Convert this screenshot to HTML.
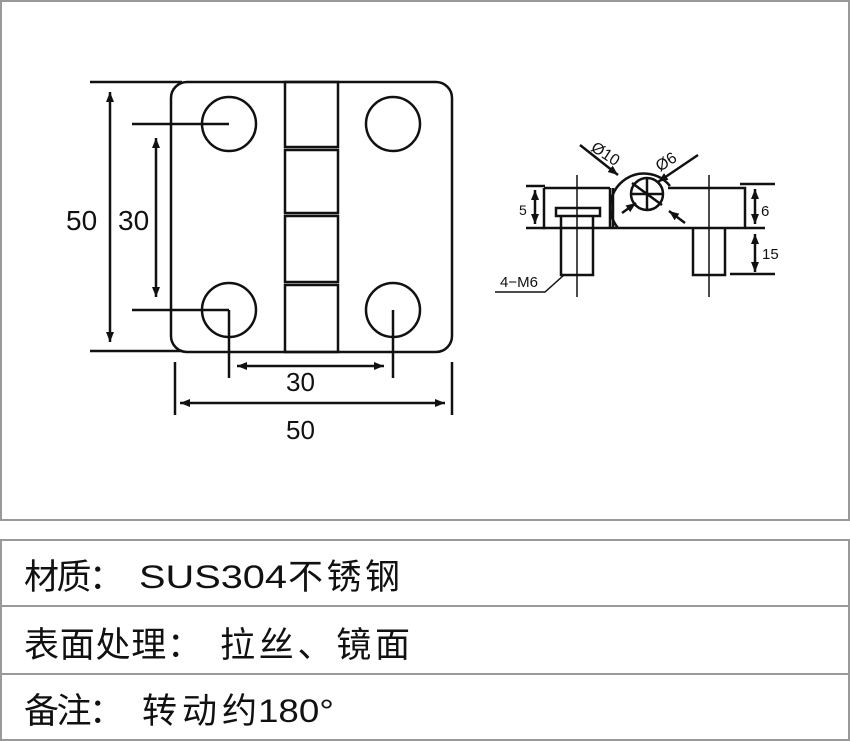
<!DOCTYPE html>
<html><head><meta charset="utf-8"><style>
body{margin:0;width:850px;height:741px;background:#fff;overflow:hidden}
svg{position:absolute;left:0;top:0}
.t{font-family:"Liberation Sans","Noto Sans CJK SC",sans-serif;fill:#111}
</style></head><body>
<svg width="850" height="741" viewBox="0 0 850 741">
<defs><marker id="a" viewBox="0 0 10 10" refX="10" refY="5" markerWidth="10" markerHeight="10" markerUnits="userSpaceOnUse" orient="auto-start-reverse"><path d="M0,1 L10,5 L0,9z" fill="#111"/></marker></defs>
<rect x="1" y="1" width="848" height="519" fill="none" stroke="#999" stroke-width="2"/>
<rect x="1" y="540" width="848" height="200" fill="none" stroke="#999" stroke-width="2"/>
<line x1="1" y1="606" x2="849" y2="606" stroke="#999" stroke-width="2"/>
<line x1="1" y1="674" x2="849" y2="674" stroke="#999" stroke-width="2"/>
<g class="t" font-size="35">
<text x="24" y="589" textLength="100" lengthAdjust="spacing">材质：</text>
<text x="139" y="588" font-size="32" textLength="148" lengthAdjust="spacingAndGlyphs">SUS304</text>
<text x="288" y="589" textLength="112" lengthAdjust="spacing">不锈钢</text>
<text x="24" y="657" textLength="178" lengthAdjust="spacing">表面处理：</text>
<text x="220" y="657" textLength="190" lengthAdjust="spacing">拉丝、镜面</text>
<text x="24" y="723" textLength="100" lengthAdjust="spacing">备注：</text>
<text x="142" y="723" textLength="115" lengthAdjust="spacing">转动约</text>
<text x="258" y="722" font-size="32" textLength="76" lengthAdjust="spacingAndGlyphs">180°</text>
</g>
<g stroke="#111" stroke-width="2.5" fill="none">
<rect x="171" y="82" width="281" height="270" rx="16"/>
<rect x="285" y="82" width="53" height="65"/>
<rect x="285" y="150" width="53" height="63"/>
<rect x="285" y="216" width="53" height="66"/>
<rect x="285" y="285" width="53" height="67"/>
<circle cx="229" cy="124" r="27"/><circle cx="393" cy="124" r="27"/>
<circle cx="229" cy="310" r="27"/><circle cx="393" cy="310" r="27"/>
<line x1="90" y1="82" x2="182" y2="82"/><line x1="90" y1="351" x2="182" y2="351"/>
<line x1="132" y1="124" x2="229" y2="124"/><line x1="132" y1="310" x2="229" y2="310"/>
<line x1="110" y1="92" x2="110" y2="342" marker-start="url(#a)" marker-end="url(#a)"/>
<line x1="156" y1="138" x2="156" y2="297" marker-start="url(#a)" marker-end="url(#a)"/>
<line x1="229" y1="310" x2="229" y2="378"/><line x1="393" y1="310" x2="393" y2="378"/>
<line x1="175" y1="362" x2="175" y2="415"/><line x1="452" y1="362" x2="452" y2="415"/>
<line x1="237" y1="366" x2="384" y2="366" marker-start="url(#a)" marker-end="url(#a)"/>
<line x1="180" y1="403" x2="445" y2="403" marker-start="url(#a)" marker-end="url(#a)"/>
<path d="M544,188 H610 M610,188 V228 M544,188 V228 H745 V188 H668 M618,228 A27,27 0 1 1 670,186"/>
<line x1="613" y1="188" x2="613" y2="228"/>
<circle cx="647" cy="194" r="16"/>
<line x1="632" y1="183" x2="662" y2="205"/><line x1="647" y1="178" x2="647" y2="210"/><line x1="631" y1="194" x2="663" y2="194"/>
<rect x="556" y="208" width="44" height="8"/>
<path d="M561,216 V275 H593 V216"/>
<path d="M693,228 V275 H725 V228"/>
<line x1="577" y1="175" x2="577" y2="297" stroke-width="1.5"/>
<line x1="709" y1="175" x2="709" y2="297" stroke-width="1.5"/>
<line x1="580" y1="145" x2="618" y2="175" marker-end="url(#a)"/>
<line x1="698" y1="155" x2="658" y2="182" marker-end="url(#a)"/>
<line x1="622" y1="213" x2="636" y2="203" marker-end="url(#a)"/>
<line x1="685" y1="223" x2="669" y2="211" marker-end="url(#a)"/>
<line x1="526" y1="186" x2="545" y2="186"/><line x1="526" y1="228" x2="545" y2="228"/>
<line x1="535" y1="190" x2="535" y2="224" marker-start="url(#a)" marker-end="url(#a)"/>
<line x1="740" y1="184" x2="775" y2="184"/><line x1="745" y1="228" x2="765" y2="228"/>
<line x1="730" y1="274" x2="775" y2="274"/>
<line x1="755" y1="189" x2="755" y2="224" marker-start="url(#a)" marker-end="url(#a)"/>
<line x1="755" y1="234" x2="755" y2="272" marker-start="url(#a)" marker-end="url(#a)"/>
<path d="M495,292 H545 L564,275" stroke-width="1.5"/>
</g>
<g class="t">
<text x="66" y="230" font-size="28">50</text>
<text x="118" y="230" font-size="28">30</text>
<text x="286" y="391" font-size="26">30</text>
<text x="286" y="439" font-size="26">50</text>
<text x="519" y="215" font-size="14">5</text>
<text x="761" y="216" font-size="15">6</text>
<text x="762" y="259" font-size="15">15</text>
<text x="500" y="287" font-size="15">4−M6</text>
<text x="590" y="150" font-size="16" transform="rotate(33 590 150)">Ø10</text>
<text x="660" y="172" font-size="16" transform="rotate(-33 660 172)">Ø6</text>
</g>
</svg>
</body></html>
